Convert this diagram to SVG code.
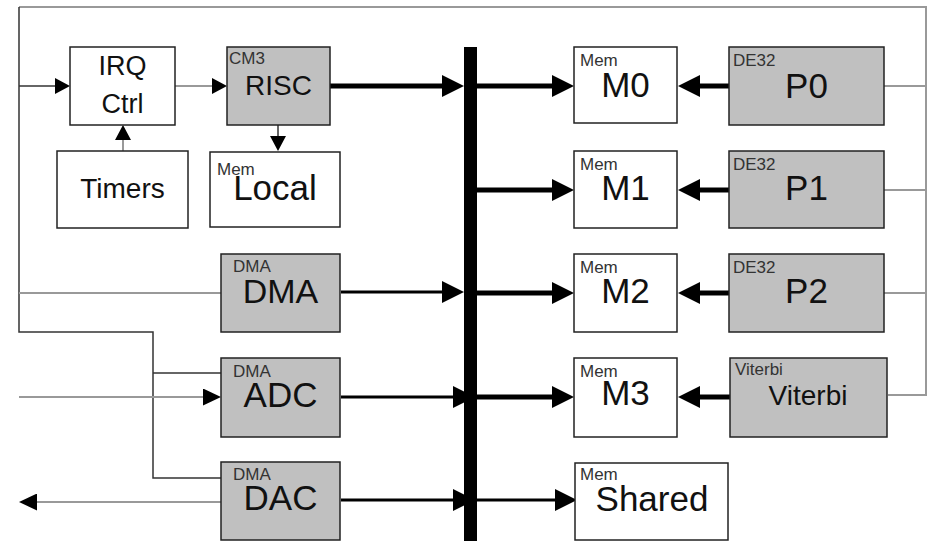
<svg xmlns="http://www.w3.org/2000/svg" width="928" height="541" viewBox="0 0 928 541">
<style>
.box{stroke:#222;stroke-width:1.5}
.w{fill:#fff}
.g{fill:#c0c0c0}
.big{font-family:"Liberation Sans",Arial,sans-serif;fill:#111;text-anchor:middle}
.sm{font-family:"Liberation Sans",Arial,sans-serif;fill:#333;font-size:17px}
.thin{fill:none;stroke:#333;stroke-width:1.5}
.gray{fill:none;stroke:#999;stroke-width:2}
.thick{fill:none;stroke:#000;stroke-width:5}
.mid{fill:none;stroke:#000;stroke-width:3}
</style>
<defs>
<marker id="big" markerUnits="userSpaceOnUse" viewBox="0 -11 22 22" markerWidth="22" markerHeight="22" refX="0" refY="0" orient="auto"><path d="M0,-11 L22,0 L0,11 z" fill="#000"/></marker>
<marker id="med" markerUnits="userSpaceOnUse" viewBox="0 -8.5 18 17" markerWidth="18" markerHeight="17" refX="0" refY="0" orient="auto"><path d="M0,-8.5 L18,0 L0,8.5 z" fill="#000"/></marker>
<marker id="sml" markerUnits="userSpaceOnUse" viewBox="0 -8 15 16" markerWidth="15" markerHeight="16" refX="0" refY="0" orient="auto"><path d="M0,-8 L15,0 L0,8 z" fill="#000"/></marker>
</defs>
<rect width="928" height="541" fill="#fff"/>
<g id="connectors">
<polyline class="gray" points="19,7 926,7 926,395 888,395"/>
<line class="gray" x1="884" y1="86" x2="926" y2="86"/>
<line class="gray" x1="884" y1="190" x2="926" y2="190"/>
<line class="gray" x1="884" y1="293" x2="926" y2="293"/>
<polyline class="thin" points="19,7 19,332 153,332 153,478 221,478"/>
<line class="thin" x1="153" y1="373" x2="221" y2="373"/>
<line class="gray" x1="19" y1="293" x2="221" y2="293"/>
<line class="thin" x1="19" y1="86" x2="55" y2="86" marker-end="url(#sml)"/>
<line class="gray" x1="19" y1="397" x2="203" y2="397" marker-end="url(#med)"/>
<line class="gray" x1="221" y1="502" x2="37" y2="502" marker-end="url(#med)"/>
<line class="gray" x1="175" y1="86" x2="212" y2="86" stroke-width="3" marker-end="url(#sml)"/>
<line class="gray" x1="123" y1="151" x2="123" y2="140" stroke-width="3" marker-end="url(#sml)"/>
<line class="thin" x1="278" y1="125" x2="278" y2="136" stroke-width="2" marker-end="url(#sml)"/>
<line class="thick" x1="330" y1="86" x2="442" y2="86" marker-end="url(#big)"/>
<line class="mid" x1="341" y1="292" x2="442" y2="292" marker-end="url(#big)"/>
<line class="mid" x1="341" y1="397" x2="453" y2="397" marker-end="url(#big)"/>
<line class="mid" x1="341" y1="500" x2="453" y2="500" marker-end="url(#big)"/>
<line class="thick" x1="477" y1="86" x2="552" y2="86" marker-end="url(#big)"/>
<line class="thick" x1="477" y1="190" x2="552" y2="190" marker-end="url(#big)"/>
<line class="thick" x1="477" y1="293" x2="552" y2="293" marker-end="url(#big)"/>
<line class="thick" x1="477" y1="397" x2="552" y2="397" marker-end="url(#big)"/>
<line class="mid" x1="477" y1="500" x2="555" y2="500" marker-end="url(#big)"/>
<line class="thick" x1="729" y1="86" x2="700" y2="86" marker-end="url(#big)"/>
<line class="thick" x1="729" y1="190" x2="700" y2="190" marker-end="url(#big)"/>
<line class="thick" x1="729" y1="293" x2="700" y2="293" marker-end="url(#big)"/>
<line class="thick" x1="730" y1="397" x2="700" y2="397" marker-end="url(#big)"/>
<rect x="464" y="47" width="13" height="494" fill="#000"/>
</g>
<g id="irq"><rect class="box w" x="70" y="47" width="105" height="78"/><text class="big" x="122.5" y="75" font-size="27">IRQ</text><text class="big" x="122.5" y="113" font-size="27">Ctrl</text></g>
<g id="risc"><rect class="box g" x="227" y="47" width="103" height="78"/><text class="sm" x="229" y="64" font-size="16">CM3</text><text class="big" x="278.5" y="95" font-size="28">RISC</text></g>
<g id="timers"><rect class="box w" x="57" y="151" width="131" height="77"/><text class="big" x="122.5" y="198" font-size="28">Timers</text></g>
<g id="local"><rect class="box w" x="210" y="152" width="130" height="75"/><text class="sm" x="217" y="175">Mem</text><text class="big" x="275" y="200" font-size="35">Local</text></g>
<g id="dma"><rect class="box g" x="221" y="254" width="119" height="78"/><text class="sm" x="233" y="272">DMA</text><text class="big" x="280.5" y="303" font-size="34">DMA</text></g>
<g id="adc"><rect class="box g" x="221" y="358" width="119" height="79"/><text class="sm" x="233" y="377">DMA</text><text class="big" x="280.5" y="407" font-size="35">ADC</text></g>
<g id="dac"><rect class="box g" x="221" y="462" width="119" height="78"/><text class="sm" x="233" y="480">DMA</text><text class="big" x="280.5" y="510" font-size="35">DAC</text></g>
<g id="m0"><rect class="box w" x="574" y="47" width="103" height="76"/><text class="sm" x="580" y="66">Mem</text><text class="big" x="625.5" y="97" font-size="35">M0</text></g>
<g id="m1"><rect class="box w" x="574" y="151" width="103" height="77"/><text class="sm" x="580" y="170">Mem</text><text class="big" x="625.5" y="200" font-size="35">M1</text></g>
<g id="m2"><rect class="box w" x="574" y="254" width="103" height="78"/><text class="sm" x="580" y="273">Mem</text><text class="big" x="625.5" y="303" font-size="35">M2</text></g>
<g id="m3"><rect class="box w" x="574" y="358" width="103" height="79"/><text class="sm" x="580" y="377">Mem</text><text class="big" x="625.5" y="405" font-size="35">M3</text></g>
<g id="shared"><rect class="box w" x="575" y="463" width="153" height="77"/><text class="sm" x="580" y="480">Mem</text><text class="big" x="652" y="511" font-size="35">Shared</text></g>
<g id="p0"><rect class="box g" x="729" y="47" width="155" height="78"/><text class="sm" x="733" y="66">DE32</text><text class="big" x="806.5" y="98" font-size="35">P0</text></g>
<g id="p1"><rect class="box g" x="729" y="151" width="155" height="77"/><text class="sm" x="733" y="170">DE32</text><text class="big" x="806.5" y="200" font-size="35">P1</text></g>
<g id="p2"><rect class="box g" x="729" y="254" width="155" height="78"/><text class="sm" x="733" y="273">DE32</text><text class="big" x="806.5" y="303" font-size="35">P2</text></g>
<g id="viterbi"><rect class="box g" x="730" y="358" width="157" height="79"/><text class="sm" x="735" y="375" font-size="16">Viterbi</text><text class="big" x="808" y="405" font-size="28">Viterbi</text></g>
</svg>
